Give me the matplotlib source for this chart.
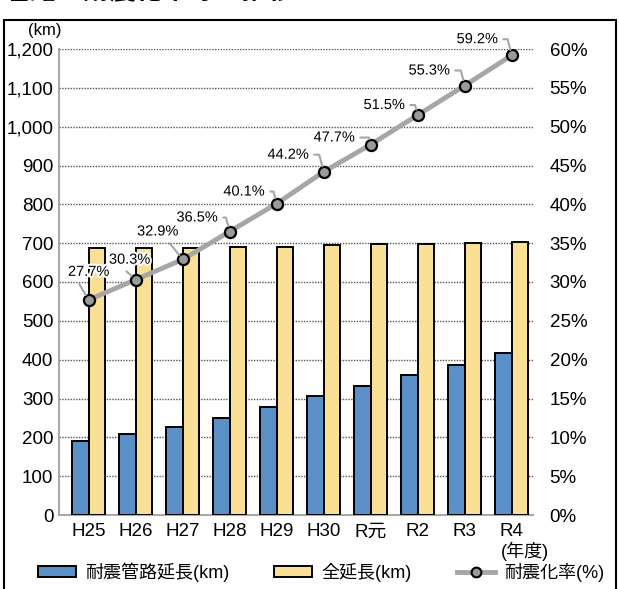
import matplotlib
matplotlib.use("Agg")
import matplotlib.pyplot as plt
import matplotlib.patheffects as pe
from matplotlib.patches import Patch, Rectangle
from matplotlib.lines import Line2D

plt.rcParams['font.family'] = ['Liberation Sans', 'Noto Sans CJK JP', 'DejaVu Sans']

years = ['H25', 'H26', 'H27', 'H28', 'H29', 'H30', 'R元', 'R2', 'R3', 'R4']
seismic_km = [190, 208, 226, 251, 277, 307, 333, 360, 387, 416]
total_km = [687, 688, 688, 689, 690, 694, 698, 699, 700, 703]
rate_pct = [27.7, 30.3, 32.9, 36.5, 40.1, 44.2, 47.7, 51.5, 55.3, 59.2]

BLUE = '#5b8fc8'
YELLOW = '#f9e095'
GRAY = '#a6a6a6'

fig = plt.figure(figsize=(6.19, 5.89), dpi=100)
ax = fig.add_axes([59 / 619, 1 - 515 / 589, (533 - 59) / 619, (515 - 49) / 589])

x = list(range(len(years)))
w = 0.35
ax.bar([i - w / 2 for i in x], seismic_km, width=w, color=BLUE,
       edgecolor='black', linewidth=1.4, zorder=3)
ax.bar([i + w / 2 for i in x], total_km, width=w, color=YELLOW,
       edgecolor='black', linewidth=1.4, zorder=3)

ax.set_xlim(-0.63, 9.45)
ax.set_ylim(0, 1200)
ax.set_yticks(range(0, 1201, 100))
ax.set_yticklabels([f'{v:,}' for v in range(0, 1201, 100)])
ax.set_xticks(x)
ax.set_xticklabels(years)
ax.tick_params(axis='both', length=0, labelsize=13.5, colors='black')
ax.tick_params(axis='y', pad=4)
ax.tick_params(axis='x', pad=6)
ax.grid(axis='y', linestyle=(0, (1, 1)), color='#555555', linewidth=1.0, zorder=1)
for s in ['top', 'right']:
    ax.spines[s].set_visible(False)
ax.spines['left'].set_color('#aaaaaa')
ax.spines['bottom'].set_color('#aaaaaa')
ax.spines['left'].set_linewidth(1.5)
ax.spines['bottom'].set_linewidth(1.5)

# 右軸：耐震化率
ax2 = ax.twinx()
ax2.set_ylim(0, 60)
ax2.set_yticks(range(0, 61, 5))
ax2.set_yticklabels([f'{v}%' for v in range(0, 61, 5)])
ax2.tick_params(axis='y', length=0, labelsize=13.5, pad=12)
for s in ax2.spines.values():
    s.set_visible(False)
ax2.plot(x, rate_pct, color=GRAY, linewidth=3.5, zorder=4,
         marker='o', markersize=8, markerfacecolor='#9a9a9a',
         markeredgecolor='black', markeredgewidth=1.6)

# ラベル位置（ピクセル）と引き出し線
label_pos = [(0, 28, 'center', (0.2, 0.0)),
             (-6, 20, 'center', (0.3, 0.0)),
             (-25, 28, 'center', (0.7, 0.0)),
             (-12, 14, 'right', None),
             (-12, 12, 'right', None),
             (-15, 17, 'right', None),
             (-16, 7, 'right', None),
             (-13, 10, 'right', None),
             (-15, 15, 'right', None),
             (-14, 16, 'right', None)]
halo = [pe.withStroke(linewidth=3, foreground='white')]
for xi, r, (dx, dy, ha, rel) in zip(x, rate_pct, label_pos):
    if rel is None:
        arrow = dict(arrowstyle='-', color=GRAY, lw=1.5, shrinkA=2, shrinkB=4,
                     relpos=(1.0, 0.5),
                     connectionstyle='angle,angleA=0,angleB=105,rad=0')
    else:
        arrow = dict(arrowstyle='-', color=GRAY, lw=1.5, shrinkA=2, shrinkB=4,
                     relpos=rel)
    ax2.annotate(f'{r}%', xy=(xi, r), xytext=(dx, dy), textcoords='offset pixels',
                 ha=ha, va='center', fontsize=10.5,
                 path_effects=halo, arrowprops=arrow, zorder=6)

fig.text(28 / 619, 1 - 30 / 589, '(km)', fontsize=12, ha='left', va='center')
fig.text(525 / 619, 1 - 551 / 589, '(年度)', fontsize=13, ha='center', va='center')
fig.text(4 / 619, 1 + 8 / 589, '管路の耐震化率等の推移', fontsize=19, weight='bold',
         ha='left', va='center')

# 外枠
fig.patches.append(Rectangle((4 / 619, -0.05), 612 / 619, 1.05 - 20 / 589,
                             transform=fig.transFigure, fill=False,
                             edgecolor='black', linewidth=1.5))

handles = [Patch(facecolor=BLUE, edgecolor='black', linewidth=1.4),
           Patch(facecolor=YELLOW, edgecolor='black', linewidth=1.4),
           Line2D([], [], color=GRAY, linewidth=3.5, marker='o', markersize=7,
                  markerfacecolor='#9a9a9a', markeredgecolor='black',
                  markeredgewidth=1.5)]
fig.legend(handles, ['耐震管路延長(km)', '全延長(km)', '耐震化率(%)'],
           loc='center', bbox_to_anchor=(321 / 619, 1 - 572 / 589), ncol=3,
           frameon=False, fontsize=13, handlelength=2.1, handleheight=0.6,
           handletextpad=0.5, columnspacing=2.5)

fig.savefig('out.png', dpi=100)
